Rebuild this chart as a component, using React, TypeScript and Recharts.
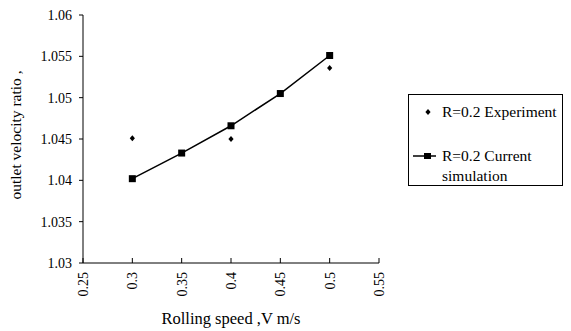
import {
  ComposedChart,
  Line,
  Scatter,
  XAxis,
  YAxis,
  Legend,
} from 'recharts';

// Rolling speed (m/s)
const speeds = [0.3, 0.35, 0.4, 0.45, 0.5];
// R=0.2 current simulation
const simulation = [1.0402, 1.0433, 1.0466, 1.0505, 1.0551];
// R=0.2 experiment (measured only at some speeds)
const experiment = [1.0451, null, 1.045, null, 1.0536];

const xTicks = [0.25, 0.3, 0.35, 0.4, 0.45, 0.5, 0.55];
const yTicks = [1.03, 1.035, 1.04, 1.045, 1.05, 1.055, 1.06];

const FONT = '"Liberation Serif", "Times New Roman", serif';

const chartData = speeds.map((s, i) => ({
  speed: s,
  sim: simulation[i],
  exp: experiment[i] ?? undefined,
}));

const fmt = (v: number) => String(Number(v.toFixed(3)));

const XTick = (props: any) => {
  const { x, y, payload } = props;
  return (
    <text
      x={x}
      y={y}
      transform={`rotate(-90, ${x}, ${y})`}
      textAnchor="end"
      dy="0.35em"
      fontSize={14}
      fontFamily={FONT}
      fill="#000"
    >
      {fmt(payload.value)}
    </text>
  );
};

const SquareDot = (props: any) => {
  const { cx, cy } = props;
  if (cx == null || cy == null) return null;
  return <rect x={cx - 3.5} y={cy - 3.5} width={7} height={7} fill="#000" />;
};

const DiamondDot = (props: any) => {
  const { cx, cy } = props;
  if (cx == null || cy == null || Number.isNaN(cy)) return null;
  return (
    <path
      d={`M${cx},${cy - 3} L${cx + 2.6},${cy} L${cx},${cy + 3} L${cx - 2.6},${cy} Z`}
      fill="#000"
    />
  );
};

const YLabel = (props: any) => {
  const { viewBox } = props;
  const x = viewBox.x + 16;
  const y = viewBox.y + viewBox.height / 2 - 4;
  return (
    <text
      x={x}
      y={y}
      transform={`rotate(-90, ${x}, ${y})`}
      textAnchor="middle"
      dy="0.35em"
      fontSize={15.5}
      fontFamily={FONT}
      fill="#000"
    >
      outlet velocity ratio ,
    </text>
  );
};

const LegendBox = () => (
  <div
    style={{
      border: '1px solid #000',
      width: 155,
      height: 92,
      boxSizing: 'border-box',
      fontFamily: FONT,
      fontSize: 15.5,
      color: '#000',
      paddingTop: 7,
      lineHeight: '20px',
    }}
  >
    <div style={{ display: 'flex', alignItems: 'flex-start' }}>
      <svg width={33} height={20}>
        <path d="M19,7 L21.6,10 L19,13 L16.4,10 Z" fill="#000" />
      </svg>
      <span style={{ whiteSpace: 'nowrap' }}>R=0.2 Experiment</span>
    </div>
    <div style={{ display: 'flex', alignItems: 'flex-start', marginTop: 24 }}>
      <svg width={33} height={20}>
        <line x1={4} y1={10} x2={27} y2={10} stroke="#000" strokeWidth={1.5} />
        <rect x={15} y={7} width={7} height={6} fill="#000" />
      </svg>
      <span style={{ width: 110 }}>R=0.2 Current simulation</span>
    </div>
  </div>
);

export default function App() {
  return (
    <div style={{ position: 'absolute', left: 0, top: 0, background: '#fff' }}>
      <ComposedChart
        width={571}
        height={331}
        data={chartData}
        margin={{ top: 15, right: 192, bottom: 0, left: 0 }}
      >
        <XAxis
          dataKey="speed"
          type="number"
          domain={[0.25, 0.55]}
          ticks={xTicks}
          interval={0}
          height={68}
          stroke="#000"
          tickSize={-5}
          tickMargin={14}
          tick={<XTick />}
          label={{
            value: 'Rolling speed ,V m/s',
            position: 'insideBottom',
            offset: 7,
            fontSize: 16.5,
            fontFamily: FONT,
            fill: '#000',
          }}
        />
        <YAxis
          type="number"
          domain={[1.03, 1.06]}
          ticks={yTicks}
          interval={0}
          width={83}
          stroke="#000"
          tickSize={4}
          tickMargin={7}
          tickFormatter={fmt}
          tick={{ fontSize: 14, fontFamily: FONT, fill: '#000' }}
          label={<YLabel />}
        />
        <Legend
          layout="vertical"
          align="center"
          verticalAlign="middle"
          content={<LegendBox />}
          wrapperStyle={{ left: 408, top: 94, width: 155 }}
        />
        <Line
          dataKey="sim"
          stroke="#000"
          strokeWidth={1.5}
          dot={<SquareDot />}
          activeDot={false}
          isAnimationActive={false}
        />
        <Scatter
          dataKey="exp"
          shape={<DiamondDot />}
          isAnimationActive={false}
        />
      </ComposedChart>
    </div>
  );
}
